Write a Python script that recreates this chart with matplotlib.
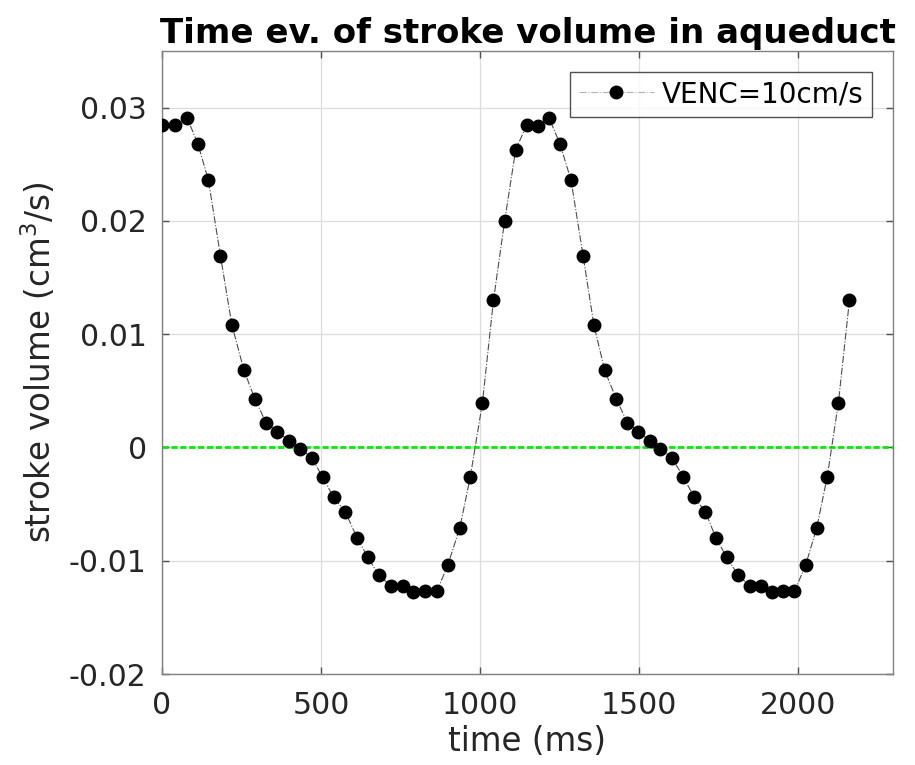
import matplotlib
matplotlib.use("Agg")
import matplotlib.pyplot as plt

time_ms = [0, 42, 79, 113, 146, 184, 220, 258, 292, 327, 363, 400, 435, 471, 505,
           540, 577, 614, 648, 682, 720, 757, 791, 828, 865, 899, 937, 970, 1008,
           1043, 1078, 1113, 1148, 1183, 1218, 1252, 1287, 1325, 1359, 1393, 1429,
           1464, 1499, 1534, 1567, 1604, 1640, 1675, 1710, 1743, 1777, 1813, 1849,
           1885, 1920, 1955, 1990, 2025, 2060, 2093, 2128, 2163]
stroke_volume = [0.0285, 0.0285, 0.0291, 0.0268, 0.0236, 0.0169, 0.0108, 0.0068,
                 0.0043, 0.0022, 0.0014, 0.0006, -0.0001, -0.0009, -0.0026, -0.0044,
                 -0.0057, -0.0080, -0.0097, -0.0113, -0.0122, -0.0122, -0.0128,
                 -0.0127, -0.0127, -0.0104, -0.0071, -0.0026, 0.0039, 0.0130, 0.0200,
                 0.0263, 0.0285, 0.0284, 0.0291, 0.0268, 0.0236, 0.0169, 0.0108,
                 0.0068, 0.0043, 0.0022, 0.0014, 0.0006, -0.0001, -0.0009, -0.0026,
                 -0.0044, -0.0057, -0.0080, -0.0097, -0.0113, -0.0122, -0.0122,
                 -0.0128, -0.0127, -0.0127, -0.0104, -0.0071, -0.0026, 0.0039, 0.0130]
series_label = "VENC=10cm/s"
x_ticks = [0, 500, 1000, 1500, 2000]
y_ticks = [-0.02, -0.01, 0, 0.01, 0.02, 0.03]
y_ticklabels = ["-0.02", "-0.01", "0", "0.01", "0.02", "0.03"]

plt.rcParams['font.family'] = ['DejaVu Sans']
plt.rcParams['mathtext.fontset'] = 'dejavusans'

fig = plt.figure(figsize=(9.15, 7.65), dpi=100)
ax = fig.add_axes([162/915, 1 - 674/765, (893-162)/915, (674-51)/765])

ax.plot(time_ms, stroke_volume, linestyle='-.', color='0.3', linewidth=0.8,
        marker='o', markersize=9, markerfacecolor='black', markeredgecolor='black',
        label=series_label, zorder=3)
ax.axhline(0, color='#00ee00', linewidth=2.0, linestyle=(0, (2.2, 1.0)), zorder=2)

ax.set_xlim(0, 2300)
ax.set_ylim(-0.02, 0.035)
ax.set_xticks(x_ticks)
ax.set_xticklabels([str(t) for t in x_ticks])
ax.set_yticks(y_ticks)
ax.set_yticklabels(y_ticklabels)

ax.grid(True, color='#dddddd', linewidth=0.9)
ax.set_axisbelow(True)
for s in ax.spines.values():
    s.set_color('#808080')
    s.set_linewidth(1.0)
ax.tick_params(axis='both', direction='in', length=5, width=1.0, color='#505050',
               labelsize=21.5, labelcolor='#262626', top=True, right=True)
ax.tick_params(axis='x', pad=12)
ax.tick_params(axis='y', pad=11)

ax.set_xlabel('time (ms)', fontsize=23.5, color='#262626', labelpad=4)
ax.set_ylabel('stroke volume (cm$^{3}$/s)', fontsize=23.5, color='#262626', labelpad=8)
ax.set_title('Time ev. of stroke volume in aqueduct', fontsize=24.5,
             fontweight='bold', pad=6)

leg = ax.legend(loc='upper right', fontsize=20, frameon=True, fancybox=False,
                edgecolor='#262626', handlelength=2.7, handletextpad=0.3,
                borderpad=0.3, borderaxespad=0.75)
leg.get_frame().set_linewidth(1.0)
for h in leg.get_lines():
    h.set_color('0.7')
    h.set_markerfacecolor('black')
    h.set_markeredgecolor('black')

fig.savefig('out.png', dpi=100, facecolor='white')
